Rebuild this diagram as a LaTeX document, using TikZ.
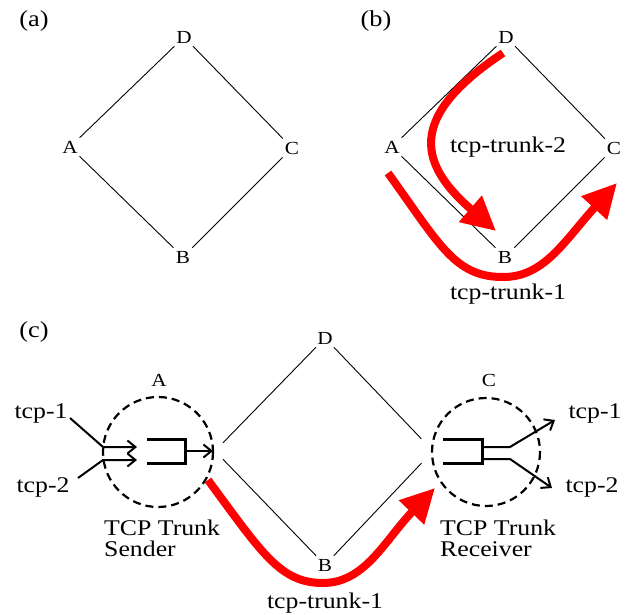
\documentclass[tikz,border=0pt]{standalone}
\usepackage{fontspec}
\setmainfont{Liberation Serif}[FakeStretch=1.15]
\usetikzlibrary{arrows.meta}

\tikzset{
  router/.style={font=\fontsize{18.5}{20}\selectfont, inner sep=3bp},
  panel/.style={font=\fontsize{23}{24}\selectfont, inner sep=0},
  caption/.style={font=\fontsize{22.5}{21}\selectfont, inner sep=0},
  junction/.style={inner sep=0, minimum size=16bp},
  link/.style={line width=0.9bp},
  trunk/.style={draw=red, line width=8bp, -{Triangle[length=34bp,width=33bp]}},
  flow/.style={line width=2bp, -{Straight Barb[length=8bp,width=13bp]}},
  bracket/.style={line width=3bp},
  endpoint/.style={line width=2.2bp, dash pattern=on 8bp off 5bp},
}

\begin{document}
\begin{tikzpicture}[x=1bp, y=-1bp]
\useasboundingbox (0,0) rectangle (630,615);

% ---------- (a) plain diamond ----------
\node[panel] (pa) at (34,21) {(a)};
\node[router] (aD) at (184,37) {D};
\node[router] (aA) at (70,147) {A};
\node[router] (aC) at (292,148) {C};
\node[router] (aB) at (183,257) {B};
\draw[link] (aD) -- (aA);
\draw[link] (aD) -- (aC);
\draw[link] (aA) -- (aB);
\draw[link] (aB) -- (aC);

% ---------- (b) two trunks ----------
\node[panel] (pb) at (376,21) {(b)};
\node[router] (bD) at (506,37) {D};
\node[router] (bA) at (392,147) {A};
\node[router] (bC) at (614,148) {C};
\node[router] (bB) at (505,257) {B};
\draw[link] (bD) -- (bA);
\draw[link] (bD) -- (bC);
\draw[link] (bA) -- (bB);
\draw[link] (bB) -- (bC);

\coordinate (k2s) at (503,53);
\coordinate (k2e) at (496,231);
\draw[trunk] (k2s) .. controls (405,118) and (420,165) .. (k2e);
\node[caption] (k2) at (508,147) {tcp-trunk-2};

\coordinate (k1s) at (388,173);
\coordinate (k1m) at (505,277);
\coordinate (k1e) at (617,183);
\draw[trunk] (k1s) .. controls (440,245) and (455,278) .. (k1m)
                   .. controls (545,276) and (565,240) .. (k1e);
\node[caption] (k1) at (508,294) {tcp-trunk-1};

% ---------- (c) trunk sender and receiver ----------
\node[panel] (pc) at (34,332) {(c)};
\node[router] (cD) at (325,338) {D};
\node[router] (cB) at (325,565) {B};
\node[router] (cA) at (159,380) {A};
\node[router] (cC) at (489,380) {C};
\node[junction] (jA) at (215,451) {};
\node[junction, minimum size=24bp] (jC) at (433,451) {};
\draw[link] (cD) -- (jA);
\draw[link] (cD) -- (jC);
\draw[link] (jA) -- (cB);
\draw[link] (cB) -- (jC);

% sender side
\draw[endpoint] (158,452) circle[radius=55];
\node[caption] (t1L) at (41,413) {tcp-1};
\node[caption] (t2L) at (43,487) {tcp-2};
\coordinate (s1) at (70,418);
\coordinate (s2) at (78,478);
\coordinate (m1) at (103,447);
\coordinate (m2) at (103,460);
\coordinate (e1) at (137,447);
\coordinate (e2) at (137,460);
\draw[flow] (s1) -- (m1) -- (e1);
\draw[flow] (s2) -- (m2) -- (e2);
\draw[bracket] (147,439) -- (185,439) -- (185,463) -- (147,463);
\coordinate (bo) at (185,451);
\coordinate (bt) at (213,451);
\draw[flow] (bo) -- (bt);
\node[caption, align=left, anchor=north west] (snd) at (104,520) {TCP Trunk\\Sender};

% receiver side
\draw[endpoint] (486,452) circle[radius=54];
\draw[bracket] (443,439) -- (482,439) -- (482,463) -- (443,463);
\node[caption] (t1R) at (595,413) {tcp-1};
\node[caption] (t2R) at (592,487) {tcp-2};
\coordinate (r1) at (483,447);
\coordinate (r2) at (483,459);
\coordinate (q1) at (510,447);
\coordinate (q2) at (510,459);
\coordinate (o1) at (555,420);
\coordinate (o2) at (552,488);
\draw[flow] (r1) -- (q1) -- (o1);
\draw[flow] (r2) -- (q2) -- (o2);
\node[caption, align=left, anchor=north west] (rcv) at (440,520) {TCP Trunk\\Receiver};

% trunk through B
\coordinate (k3s) at (208,480);
\coordinate (k3m) at (323,583);
\coordinate (k3e) at (435,488);
\draw[trunk] (k3s) .. controls (262,553) and (280,583) .. (k3m)
                   .. controls (365,583) and (385,540) .. (k3e);
\node[caption] (k3) at (325,603) {tcp-trunk-1};
\end{tikzpicture}
\end{document}
